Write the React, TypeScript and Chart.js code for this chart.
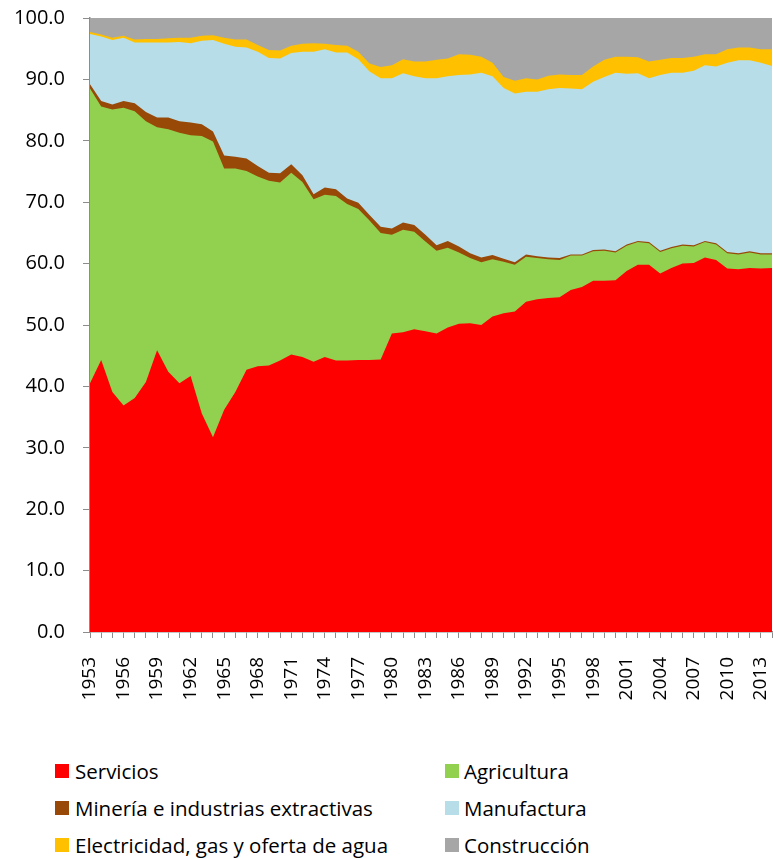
import React, { useEffect, useRef } from 'react';
import { Chart, registerables } from 'chart.js';

Chart.register(...registerables);

const YEARS = [
  '1953', '1954', '1955', '1956', '1957', '1958', '1959', '1960', '1961', '1962',
  '1963', '1964', '1965', '1966', '1967', '1968', '1969', '1970', '1971', '1972',
  '1973', '1974', '1975', '1976', '1977', '1978', '1979', '1980', '1981', '1982',
  '1983', '1984', '1985', '1986', '1987', '1988', '1989', '1990', '1991', '1992',
  '1993', '1994', '1995', '1996', '1997', '1998', '1999', '2000', '2001', '2002',
  '2003', '2004', '2005', '2006', '2007', '2008', '2009', '2010', '2011', '2012',
  '2013', '2014',
];

const SERVICIOS = [
  40.5, 44.3, 39.1, 36.9, 38.1, 40.7, 45.9, 42.4, 40.5, 41.7,
  35.6, 31.7, 36.2, 39.1, 42.7, 43.3, 43.4, 44.2, 45.2, 44.8,
  44.0, 44.8, 44.2, 44.2, 44.3, 44.3, 44.4, 48.6, 48.8, 49.3,
  49.0, 48.6, 49.6, 50.2, 50.3, 50.0, 51.4, 51.9, 52.2, 53.8,
  54.2, 54.4, 54.5, 55.7, 56.2, 57.2, 57.2, 57.3, 58.8, 59.8,
  59.8, 58.4, 59.3, 60.0, 60.1, 61.0, 60.6, 59.2, 59.1, 59.3,
  59.2, 59.3,
];

const AGRICULTURA = [
  48.0, 41.3, 46.0, 48.5, 46.7, 42.5, 36.3, 39.5, 40.8, 39.2,
  45.2, 48.2, 39.3, 36.4, 32.4, 30.9, 30.1, 29.0, 29.6, 28.5,
  26.5, 26.4, 26.8, 25.5, 24.6, 22.7, 20.6, 16.1, 16.7, 15.9,
  14.6, 13.5, 13.0, 11.6, 10.6, 10.2, 9.3, 8.4, 7.6, 7.3,
  6.7, 6.3, 6.1, 5.6, 5.1, 4.8, 4.9, 4.5, 4.1, 3.7,
  3.5, 3.5, 3.2, 2.9, 2.7, 2.5, 2.5, 2.5, 2.4, 2.5,
  2.3, 2.2,
];

const MINERIA = [
  0.7, 0.9, 0.8, 1.1, 1.3, 1.5, 1.6, 1.9, 1.9, 2.1,
  1.9, 1.6, 2.1, 1.9, 2.0, 1.7, 1.3, 1.5, 1.4, 1.1,
  0.8, 1.2, 1.1, 0.9, 1.0, 0.9, 1.0, 1.0, 1.2, 1.1,
  1.1, 0.9, 1.1, 1.0, 0.8, 0.8, 0.7, 0.5, 0.4, 0.4,
  0.3, 0.3, 0.3, 0.2, 0.2, 0.2, 0.2, 0.2, 0.2, 0.2,
  0.2, 0.2, 0.2, 0.2, 0.2, 0.2, 0.2, 0.2, 0.2, 0.2,
  0.2, 0.2,
];

const MANUFACTURA = [
  8.2, 10.5, 10.5, 10.3, 9.9, 11.3, 12.2, 12.2, 12.9, 12.9,
  13.6, 14.9, 18.2, 17.9, 18.1, 18.6, 18.7, 18.7, 18.1, 20.1,
  23.2, 22.5, 22.3, 23.8, 23.4, 23.4, 24.2, 24.5, 24.3, 24.2,
  25.5, 27.2, 26.8, 27.9, 29.1, 30.1, 29.1, 27.8, 27.5, 26.5,
  26.8, 27.4, 27.7, 27.0, 26.9, 27.4, 28.1, 29.1, 27.8, 27.3,
  26.7, 28.6, 28.4, 28.0, 28.4, 28.6, 28.8, 30.8, 31.4, 31.1,
  31.0, 30.5,
];

const ELECTRICIDAD = [
  0.3, 0.3, 0.4, 0.3, 0.5, 0.6, 0.6, 0.7, 0.7, 0.9,
  0.8, 0.8, 1.0, 1.2, 1.3, 1.1, 1.3, 1.3, 1.2, 1.3,
  1.4, 0.9, 1.2, 1.1, 1.2, 1.3, 1.8, 2.1, 2.3, 2.4,
  2.7, 3.0, 2.9, 3.4, 3.2, 2.6, 2.2, 1.8, 2.1, 2.2,
  2.0, 2.2, 2.2, 2.2, 2.3, 2.5, 2.8, 2.6, 2.8, 2.6,
  2.7, 2.5, 2.4, 2.4, 2.3, 1.8, 2.0, 2.2, 2.1, 2.1,
  2.2, 2.7,
];

const CONSTRUCCION = [
  2.3, 2.7, 3.2, 2.9, 3.5, 3.4, 3.4, 3.3, 3.2, 3.2,
  2.9, 2.8, 3.2, 3.5, 3.5, 4.4, 5.2, 5.3, 4.5, 4.2,
  4.1, 4.2, 4.4, 4.5, 5.5, 7.4, 8.0, 7.7, 6.7, 7.1,
  7.1, 6.8, 6.6, 5.9, 6.0, 6.3, 7.3, 9.6, 10.2, 9.8,
  10.0, 9.4, 9.2, 9.3, 9.3, 7.9, 6.8, 6.3, 6.4, 6.4,
  7.1, 6.8, 6.6, 6.5, 6.4, 5.9, 5.9, 5.2, 4.9, 4.9,
  5.1, 5.2,
];

const SERIES_NAMES = [
  'Servicios',
  'Agricultura',
  'Minería e industrias extractivas',
  'Manufactura',
  'Electricidad, gas y oferta de agua',
  'Construcción',
];
const SERIES_DATA = [SERVICIOS, AGRICULTURA, MINERIA, MANUFACTURA, ELECTRICIDAD, CONSTRUCCION];
const SERIES_COLORS = ['#FF0000', '#92D050', '#984807', '#B7DEE8', '#FFC000', '#A6A6A6'];

const FONT = '"Open Sans", "Noto Sans", sans-serif';
const AXIS_COLOR = '#8C8C8C';

export default function App() {
  const ref = useRef<HTMLCanvasElement>(null);

  useEffect(() => {
    const canvas = ref.current;
    if (!canvas) return;
    const chart = new Chart(canvas, {
      type: 'line',
      data: {
        labels: YEARS,
        datasets: SERIES_NAMES.map((name, i) => ({
          label: name,
          data: SERIES_DATA[i],
          backgroundColor: SERIES_COLORS[i],
          borderColor: SERIES_COLORS[i],
          borderWidth: 0,
          pointRadius: 0,
          pointHoverRadius: 0,
          fill: 'origin',
          tension: 0,
        })),
      },
      options: {
        responsive: false,
        animation: false,
        events: [],
        layout: { padding: { top: 18, right: 1, left: 0, bottom: 0 } },
        plugins: {
          legend: { display: false },
          tooltip: { enabled: false },
        },
        scales: {
          x: {
            offset: false,
            grid: {
              drawOnChartArea: false,
              color: AXIS_COLOR,
              tickLength: 6,
            },
            border: { color: AXIS_COLOR, width: 1.5 },
            ticks: {
              autoSkip: false,
              minRotation: 90,
              maxRotation: 90,
              padding: 19,
              color: '#000',
              font: { family: FONT, size: 19 },
              callback: (_v: any, i: number) => (i % 3 === 0 ? YEARS[i] : ''),
            },
            afterFit: (s: any) => {
              s.height = 88;
              s.paddingLeft = 0;
              s.paddingRight = 0;
              s.paddingTop = 0;
              s.paddingBottom = 0;
            },
          },
          y: {
            stacked: true,
            min: 0,
            max: 100,
            grid: {
              drawOnChartArea: false,
              color: AXIS_COLOR,
              tickLength: 7,
            },
            border: { color: AXIS_COLOR, width: 1.5 },
            ticks: {
              stepSize: 10,
              padding: 18,
              color: '#000',
              font: { family: FONT, size: 20 },
              callback: (v: any) => Number(v).toFixed(1),
            },
            afterFit: (s: any) => {
              s.width = 90;
              s.paddingLeft = 0;
              s.paddingRight = 0;
              s.paddingTop = 0;
              s.paddingBottom = 0;
            },
          },
        },
      },
    });
    return () => chart.destroy();
  }, []);

  const rows = [0, 1, 2];
  return (
    <div
      style={{
        position: 'absolute',
        left: 0,
        top: 0,
        width: 773,
        height: 859,
        background: '#fff',
        fontFamily: FONT,
      }}
    >
      <canvas ref={ref} width={773} height={720} style={{ display: 'block' }} />
      {rows.map((r) =>
        [0, 1].map((c) => {
          const idx = r * 2 + c;
          return (
            <div
              key={idx}
              style={{
                position: 'absolute',
                left: c === 0 ? 55 : 445,
                top: 759 + r * 37,
                height: 24,
                display: 'flex',
                alignItems: 'center',
                whiteSpace: 'nowrap',
              }}
            >
              <span
                style={{
                  display: 'inline-block',
                  width: 14,
                  height: 14,
                  background: SERIES_COLORS[idx],
                  marginRight: c === 0 ? 6 : 5,
                }}
              />
              <span style={{ fontSize: 20.5, lineHeight: '24px', color: '#000' }}>
                {SERIES_NAMES[idx]}
              </span>
            </div>
          );
        })
      )}
    </div>
  );
}
